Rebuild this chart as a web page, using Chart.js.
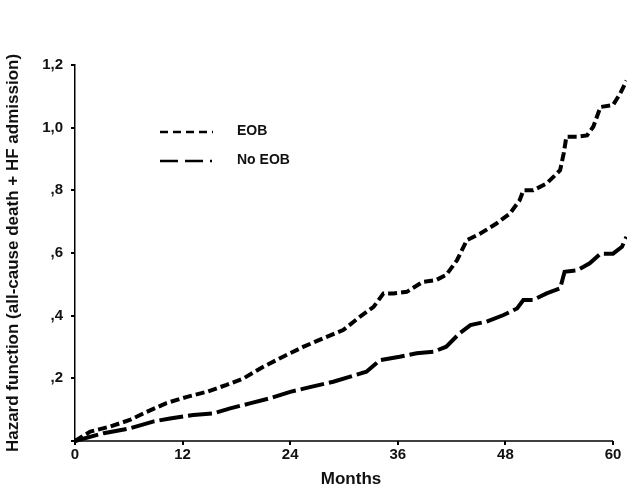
<!DOCTYPE html>
<html lang="en">
<head>
<meta charset="UTF-8">
<title>Hazard function</title>
<script src="https://cdn.jsdelivr.net/npm/chart.js@4/dist/chart.umd.min.js"></script>
<style>
  html, body { margin: 0; padding: 0; background: #fff; }
  #wrap { width: 627px; height: 490px; }
</style>
</head>
<body>
<div id="wrap"><canvas id="hazard" width="627" height="490"></canvas></div>
<script>
// values
const monthsEOB = [0, 1.7, 3.9, 6.1, 8.0, 10.2, 12.5, 14.7, 16.9, 18.8, 21.0, 23.2, 25.5, 27.7, 29.9, 31.8, 33.3, 34.4, 35.5, 37.0, 38.8, 40.3, 41.4, 42.6, 43.7, 45.2, 47.0, 48.5, 49.6, 50.0, 51.1, 52.6, 54.1, 54.5, 54.8, 56.0, 57.1, 57.8, 58.6, 60.0, 60.8, 61.5]
const hazardEOB = [0, 0.03, 0.046, 0.067, 0.093, 0.121, 0.141, 0.157, 0.179, 0.2, 0.237, 0.269, 0.301, 0.328, 0.354, 0.397, 0.428, 0.471, 0.471, 0.476, 0.508, 0.514, 0.53, 0.577, 0.641, 0.662, 0.694, 0.726, 0.769, 0.8, 0.8, 0.822, 0.864, 0.918, 0.971, 0.971, 0.975, 1.003, 1.066, 1.072, 1.109, 1.15]

const monthsNoEOB = [0, 3.2, 6.1, 8.7, 10.6, 13.2, 15.4, 17.3, 19.5, 21.7, 24.0, 26.2, 28.8, 32.5, 34.0, 36.2, 38.1, 40.0, 41.4, 42.9, 44.1, 45.9, 47.8, 49.3, 50.0, 51.1, 52.6, 54.1, 54.6, 56.0, 57.4, 58.6, 60.0, 61.0, 61.5]
const hazardNoEOB = [0, 0.025, 0.04, 0.062, 0.072, 0.083, 0.088, 0.104, 0.12, 0.136, 0.157, 0.172, 0.189, 0.221, 0.258, 0.269, 0.28, 0.285, 0.301, 0.344, 0.37, 0.381, 0.402, 0.423, 0.45, 0.45, 0.471, 0.487, 0.54, 0.545, 0.567, 0.598, 0.598, 0.62, 0.652]

const xTicks = [0, 12, 24, 36, 48, 60]
const seriesNames = ["EOB", "No EOB"]

const FONT = "'Liberation Sans', Arial, sans-serif"

function pairs(xs, ys) {
  return xs.map((x, i) => ({x: x, y: ys[i]}))
}

// legend drawn inside the plot, line sample + label
const insideLegend = {
  id: "insideLegend",
  afterDraw(chart) {
    const ctx = chart.ctx
    const area = chart.chartArea
    ctx.save()
    chart.data.datasets.forEach((ds, i) => {
      const y = area.top + 67 + i * 29
      const x0 = area.left + 85
      ctx.strokeStyle = "#000"
      ctx.lineWidth = 2.5
      ctx.setLineDash(ds.legendDash)
      ctx.beginPath()
      ctx.moveTo(x0, y)
      ctx.lineTo(x0 + 53, y)
      ctx.stroke()
      ctx.setLineDash([])
      ctx.fillStyle = "#111"
      ctx.font = "bold 14px " + FONT
      ctx.textBaseline = "middle"
      ctx.fillText(ds.label, x0 + 77, y - 1)
    })
    ctx.restore()
  }
}

// x axis line only runs to the last tick (60), data goes a bit further
const xAxisLine = {
  id: "xAxisLine",
  afterDraw(chart) {
    const x = chart.scales.x
    const ctx = chart.ctx
    ctx.save()
    ctx.strokeStyle = "#000"
    ctx.lineWidth = 1.5
    ctx.beginPath()
    ctx.moveTo(x.getPixelForValue(0), x.top)
    ctx.lineTo(x.getPixelForValue(xTicks[xTicks.length - 1]), x.top)
    ctx.stroke()
    ctx.restore()
  }
}

new Chart("hazard", {
  type: "line",
  data: {
    datasets: [{
      label: seriesNames[0],
      data: pairs(monthsEOB, hazardEOB),
      borderColor: "#000",
      borderWidth: 4,
      borderDash: [9, 4],
      legendDash: [8, 5],
      pointRadius: 0,
      tension: 0,
      clip: false
    }, {
      label: seriesNames[1],
      data: pairs(monthsNoEOB, hazardNoEOB),
      borderColor: "#000",
      borderWidth: 4,
      borderDash: [24, 5],
      legendDash: [18, 7, 18, 7, 2, 7],
      pointRadius: 0,
      tension: 0,
      clip: false
    }]
  },
  options: {
    responsive: false,
    animation: false,
    layout: {padding: {top: 65, right: 0, left: 0, bottom: 0}},
    plugins: {legend: {display: false}, tooltip: {enabled: false}},
    scales: {
      x: {
        type: "linear",
        min: 0,
        max: 61.56,
        afterBuildTicks: s => { s.ticks = xTicks.map(v => ({value: v})) },
        afterFit: s => { s.height = 49 },
        grid: {display: true, drawOnChartArea: false, drawTicks: true, tickLength: 4, color: "#000", lineWidth: 2},
        border: {display: false},
        ticks: {color: "#111", font: {family: FONT, size: 15, weight: "bold"}, padding: 1, maxRotation: 0},
        title: {display: true, text: "Months", color: "#111", font: {family: FONT, size: 17, weight: "bold"}, padding: {top: 0, bottom: 0}}
      },
      y: {
        min: 0,
        max: 1.2,
        afterFit: s => { s.width = 75 },
        grid: {display: true, drawOnChartArea: false, drawTicks: true, tickLength: 4, color: "#000", lineWidth: 2},
        border: {display: true, color: "#000", width: 1.5},
        ticks: {
          stepSize: 0.2,
          color: "#111",
          font: {family: FONT, size: 15, weight: "bold"},
          padding: 8,
          callback: v => v === 0 ? "" : v.toFixed(1).replace(".", ",").replace(/^0/, "")
        },
        title: {display: true, text: "Hazard function (all-cause death + HF admission)", color: "#111", font: {family: FONT, size: 17, weight: "bold"}, padding: {top: 3, bottom: 0}}
      }
    }
  },
  plugins: [insideLegend, xAxisLine]
})
</script>
</body>
</html>
